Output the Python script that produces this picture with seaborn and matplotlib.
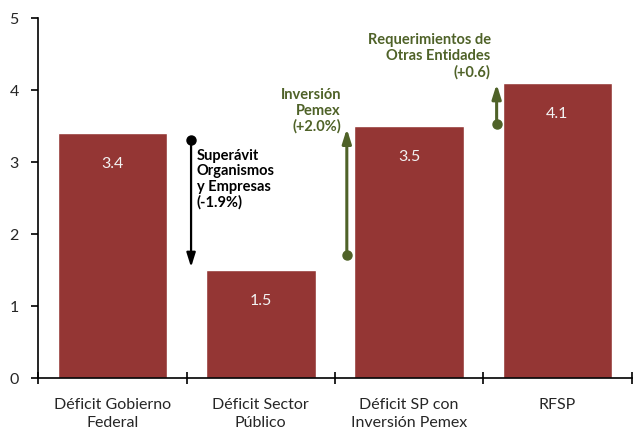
import matplotlib
matplotlib.use("Agg")
import matplotlib.pyplot as plt
import seaborn as sns
import pandas as pd

# data
categories = ["Déficit Gobierno\nFederal", "Déficit Sector\nPúblico",
              "Déficit SP con\nInversión Pemex", "RFSP"]
values = [3.4, 1.5, 3.5, 4.1]
value_labels = ["3.4", "1.5", "3.5", "4.1"]

# bridge arrows: (x position, start, end, label)
arrow_x = [0.53, 1.58, 2.59]
arrow_start = [3.3, 1.7, 3.53]
arrow_end = [1.5, 3.5, 4.12]
arrow_labels = ["Superávit\nOrganismos\ny Empresas\n(-1.9%)",
                "Inversión\nPemex\n(+2.0%)",
                "Requerimientos de\nOtras Entidades\n(+0.6)"]

bar_color = "#943634"
green = "#4f6228"

sns.set_theme(style="white")
plt.rcParams["font.family"] = ["Lato", "DejaVu Sans"]

df = pd.DataFrame({"cat": categories, "val": values})

fig = plt.figure(figsize=(6.38, 4.31), dpi=100)
ax = fig.add_axes([0.06, 0.121, 0.93, 0.835])

sns.barplot(data=df, x="cat", y="val", color=bar_color, saturation=1,
            width=0.74, ax=ax)

for i, (v, lab) in enumerate(zip(values, value_labels)):
    ax.text(i, v - 0.42, lab, ha="center", va="center", color="#f2f2f2",
            fontsize=11.5)

head = "-|>,head_length=0.7,head_width=0.22"

# arrows
ax.plot(arrow_x[0], arrow_start[0], "o", color="black", ms=6.5)
ax.annotate("", xy=(arrow_x[0], arrow_end[0]), xytext=(arrow_x[0], arrow_start[0]),
            arrowprops=dict(arrowstyle=head, color="black", lw=1.6))
ax.text(arrow_x[0] + 0.04, 3.2, arrow_labels[0], ha="left", va="top",
        fontsize=10.5, fontweight="bold", color="black", linespacing=1.15)

for k in (1, 2):
    ax.plot(arrow_x[k], arrow_start[k], "o", color=green, ms=6.5)
    ax.annotate("", xy=(arrow_x[k], arrow_end[k]), xytext=(arrow_x[k], arrow_start[k]),
                arrowprops=dict(arrowstyle=head, color=green, lw=2.2))

ax.text(arrow_x[1] - 0.04, 4.04, arrow_labels[1], ha="right", va="top",
        fontsize=10.5, fontweight="bold", color=green, linespacing=1.15)
ax.text(arrow_x[2] - 0.04, 4.8, arrow_labels[2], ha="right", va="top",
        fontsize=10.5, fontweight="bold", color=green, linespacing=1.15)

ax.set_xlim(-0.5, 3.5)
ax.set_ylim(0, 5)
ax.set_yticks([0, 1, 2, 3, 4, 5])
ax.set_xticks([-0.5, 0.5, 1.5, 2.5, 3.5])
ax.set_xticklabels([])
ax.set_xticks(range(len(categories)), minor=True)
ax.set_xticklabels(categories, minor=True, fontsize=11.5, linespacing=1.3)
ax.tick_params(axis="x", which="major", direction="inout", length=9, width=1.2,
               color="black", bottom=True)
ax.tick_params(axis="x", which="minor", length=0, pad=14)
ax.tick_params(axis="y", direction="out", length=5, width=1.2, color="black",
               left=True, labelsize=11.5, pad=9)
ax.set_xlabel("")
ax.set_ylabel("")

for side in ("top", "right"):
    ax.spines[side].set_visible(False)
for side in ("left", "bottom"):
    ax.spines[side].set_color("black")
    ax.spines[side].set_linewidth(1.2)

fig.savefig("out.png", dpi=100)
